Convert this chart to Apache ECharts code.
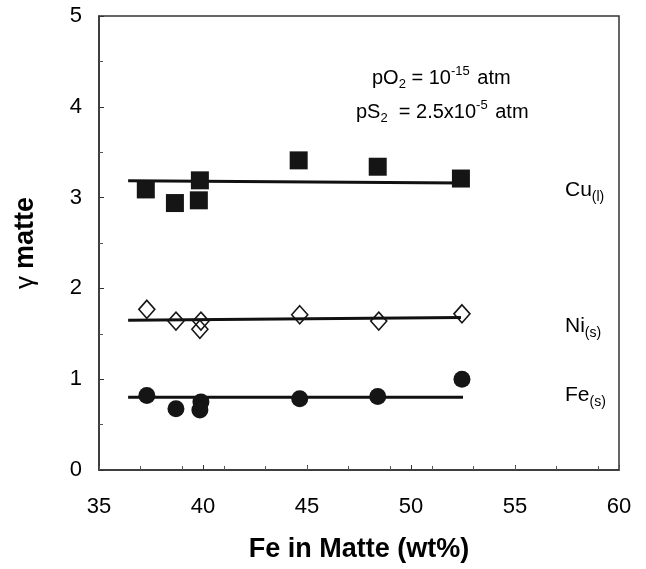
<!DOCTYPE html>
<html>
<head>
<meta charset="utf-8">
<script src="https://cdn.jsdelivr.net/npm/echarts@6/dist/echarts.min.js"></script>
<style>html,body{margin:0;padding:0;background:#fff;}#c{width:646px;height:569px;}</style>
</head>
<body>
<div id="c"></div>
<script>
// Data
var cuX = [37.25, 38.65, 39.8, 39.85, 44.6, 48.4, 52.4];
var cuY = [3.09, 2.94, 2.97, 3.19, 3.41, 3.34, 3.21];
var niX = [37.3, 38.7, 39.9, 39.85, 44.65, 48.45, 52.45];
var niY = [1.77, 1.64, 1.64, 1.55, 1.71, 1.64, 1.72];
var feX = [37.3, 38.7, 39.9, 39.85, 44.65, 48.4, 52.45];
var feY = [0.82, 0.675, 0.75, 0.66, 0.785, 0.81, 1.0];
var cuFitX = [36.4, 52.4];
var cuFitY = [3.185, 3.16];
var niFitX = [36.4, 52.4];
var niFitY = [1.65, 1.68];
var feFitX = [36.4, 52.5];
var feFitY = [0.80, 0.80];
var xTicks = [35, 40, 45, 50, 55, 60];
var yTicks = [0, 1, 2, 3, 4, 5];

function pairs(xs, ys) { return xs.map(function (x, i) { return [x, ys[i]]; }); }

var FONT = 'Liberation Sans, Arial, sans-serif';
var chart = echarts.init(document.getElementById('c'), null, { renderer: 'canvas' });

function fitLine(xs, ys) {
  return {
    type: 'line', data: pairs(xs, ys), symbol: 'none', z: 1,
    lineStyle: { color: '#111', width: 3 }, silent: true, animation: false
  };
}
var annRich = {
  n: { fontFamily: FONT, fontSize: 20, color: '#000', lineHeight: 26, verticalAlign: 'middle' },
  s: { fontFamily: FONT, fontSize: 13, color: '#000', verticalAlign: 'bottom', lineHeight: 26, padding: [11, 0, 0, 0] },
  p: { fontFamily: FONT, fontSize: 13, color: '#000', verticalAlign: 'top', lineHeight: 26, padding: [0, 2, 11, 0] }
};
var lblRich = {
  n: { fontFamily: FONT, fontSize: 21, color: '#000', lineHeight: 28 },
  s: { fontFamily: FONT, fontSize: 14, color: '#000', verticalAlign: 'bottom', lineHeight: 28, padding: [12, 0, 0, 0] }
};

var option = {
  animation: false,
  backgroundColor: '#fff',
  grid: { left: 99, right: 27, top: 16, bottom: 99, show: true, borderColor: '#333', borderWidth: 1.5, backgroundColor: 'transparent' },
  xAxis: [{
    type: 'value', min: xTicks[0], max: xTicks[xTicks.length - 1], interval: 5,
    name: 'Fe in Matte (wt%)', nameLocation: 'middle', nameGap: 66,
    nameTextStyle: { fontFamily: FONT, fontSize: 27, fontWeight: 'bold', color: '#000' },
    axisLine: { lineStyle: { color: '#333', width: 1.5 } },
    axisTick: { inside: true, length: 5, lineStyle: { color: '#333' } },
    axisLabel: { fontFamily: FONT, fontSize: 22, color: '#000', margin: 26 },
    splitLine: { show: false }
  }, {
    type: 'value', min: 35, max: 60, interval: 2, position: 'bottom',
    axisLine: { show: false },
    axisTick: { inside: true, length: 4, lineStyle: { color: '#555' } },
    axisLabel: { show: false }, splitLine: { show: false }
  }],
  yAxis: {
    type: 'value', min: yTicks[0], max: yTicks[yTicks.length - 1], interval: 1,
    name: '{g|γ }{b|matte}', nameLocation: 'middle', nameGap: 60,
    nameTextStyle: { color: '#000', rich: {
      g: { fontFamily: FONT, fontSize: 26, fontWeight: 'normal', color: '#000' },
      b: { fontFamily: FONT, fontSize: 27, fontWeight: 'bold', color: '#000' }
    } },
    axisLine: { show: true, lineStyle: { color: '#333', width: 1.5 } },
    axisTick: { show: true, inside: true, length: 5, lineStyle: { color: '#333' } },
    minorTick: { show: true, splitNumber: 2, length: 4, lineStyle: { color: '#555' } },
    axisLabel: { fontFamily: FONT, fontSize: 22, color: '#000', margin: 17 },
    splitLine: { show: false }
  },
  series: [
    fitLine(cuFitX, cuFitY),
    fitLine(niFitX, niFitY),
    fitLine(feFitX, feFitY),
    { type: 'scatter', name: 'Cu', data: pairs(cuX, cuY), symbol: 'rect', symbolSize: 18, z: 3,
      itemStyle: { color: '#151515', opacity: 1 } },
    { type: 'scatter', name: 'Ni', data: pairs(niX, niY), symbol: 'diamond', symbolSize: [16, 18], z: 3,
      itemStyle: { color: 'rgba(0,0,0,0)', borderColor: '#151515', borderWidth: 1.6, opacity: 1 } },
    { type: 'scatter', name: 'Fe', data: pairs(feX, feY), symbol: 'circle', symbolSize: 17, z: 3,
      itemStyle: { color: '#151515', opacity: 1 } }
  ],
  graphic: [
    { type: 'text', left: 372, top: 65, style: { text: '{n|pO}{s|2}{n| = 10}{p|-15}{n| atm}', fill: '#000', rich: annRich } },
    { type: 'text', left: 356, top: 99, style: { text: '{n|pS}{s|2}{n|  = 2.5x10}{p|-5}{n| atm}', fill: '#000', rich: annRich } },
    { type: 'text', left: 565, top: 178, style: { text: '{n|Cu}{s|(l)}', fill: '#000', rich: lblRich } },
    { type: 'text', left: 565, top: 314, style: { text: '{n|Ni}{s|(s)}', fill: '#000', rich: lblRich } },
    { type: 'text', left: 565, top: 383, style: { text: '{n|Fe}{s|(s)}', fill: '#000', rich: lblRich } }
  ]
};
chart.setOption(option);
</script>
</body>
</html>
